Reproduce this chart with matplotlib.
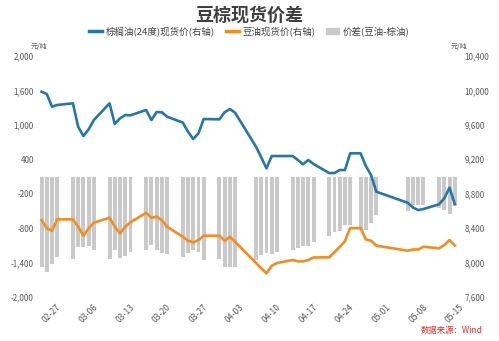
import numpy as np
import pandas as pd
import matplotlib.pyplot as plt
import matplotlib.dates as mdates
from matplotlib.lines import Line2D
from matplotlib.patches import Patch
from matplotlib.ticker import FuncFormatter

plt.rcParams['font.family'] = ['Noto Sans CJK SC', 'DejaVu Sans']

# trading days (2025)
dates = ["02-25", "02-26", "02-27", "02-28",
         "03-03", "03-04", "03-05", "03-06", "03-07",
         "03-10", "03-11", "03-12", "03-13", "03-14",
         "03-17", "03-18", "03-19", "03-20", "03-21",
         "03-24", "03-25", "03-26", "03-27", "03-28",
         "03-31", "04-01", "04-02", "04-03",
         "04-07", "04-08", "04-09", "04-10", "04-11",
         "04-14", "04-15", "04-16", "04-17", "04-18",
         "04-21", "04-22", "04-23", "04-24", "04-25",
         "04-27", "04-28", "04-29", "04-30",
         "05-06", "05-07", "05-08", "05-09",
         "05-12", "05-13", "05-14", "05-15"]

palm = [9985, 9958, 9811, 9831,
        9850, 9578, 9470, 9548, 9656,
        9850, 9610, 9676, 9714, 9711,
        9773, 9656, 9749, 9746, 9695,
        9627, 9520, 9436, 9502, 9668,
        9664, 9746, 9784, 9741,
        9346, 9223, 9095, 9238, 9238,
        9238, 9192, 9142, 9192, 9145,
        9040, 9040, 9075, 9075, 9269,
        9269, 9122, 9017, 8823,
        8695, 8640, 8610, 8622,
        8677, 8747, 8870, 8680]

soy = [8494, 8398, 8370, 8502,
       8502, 8416, 8312, 8398, 8463,
       8521, 8416, 8340, 8416, 8468,
       8579, 8521, 8533, 8494, 8416,
       8300, 8254, 8235, 8262, 8312,
       8312, 8254, 8300, 8242,
       7995, 7933, 7875, 7963, 7995,
       8030, 8014, 8014, 8030, 8059,
       8061, 8122, 8181, 8250, 8401,
       8401, 8268, 8254, 8197,
       8138, 8152, 8152, 8184,
       8166, 8204, 8262, 8198]

spread = [-1506, -1582, -1444, -1333,
          -1366, -1167, -1174, -1157, -1212,
          -1361, -1212, -1356, -1323, -1257,
          -1212, -1140, -1228, -1267, -1290,
          -1333, -1267, -1212, -1245, -1378,
          -1361, -1499, -1499, -1499,
          -1378, -1306, -1267, -1283, -1245,
          -1223, -1195, -1157, -1154, -1091,
          -991, -913, -900, -813, -810,
          -896, -880, -780, -647,
          -574, -481, -465, -465,
          -528, -548, -619, -493]

left_labels = ["-2,000", "-1,400", "-800", "-200", "400", "1,000", "1,600", "2,000"]

x = pd.to_datetime(["2025-" + d for d in dates])

c_palm = '#2477a6'
c_soy = '#f68b1f'
c_bar = '#c9c9c9'
c_txt = '#595959'

fig = plt.figure(figsize=(4.99, 3.41), dpi=100)
ax = fig.add_axes([38 / 499, 44 / 341, 422 / 499, 241 / 341])
ax.bar(x, spread, width=0.75, color=c_bar)
ax.set_ylim(-2000, 2000)
ax.set_yticks(np.linspace(-2000, 2000, 8))
ax.set_yticklabels(left_labels)

ax2 = ax.twinx()
ax2.plot(x, palm, color=c_palm, lw=1.9)
ax2.plot(x, soy, color=c_soy, lw=1.9)
ax2.set_ylim(7600, 10400)
ax2.set_yticks(range(7600, 10401, 400))
ax2.yaxis.set_major_formatter(FuncFormatter(lambda v, p: f'{v:,.0f}'))

x0 = mdates.date2num(pd.Timestamp('2025-02-27'))
ax.set_xlim(x0 - 2.68, x0 + 78.0)
ticks = pd.date_range('2025-02-27', '2025-05-15', freq='7D')
ax.set_xticks(ticks)
ax.set_xticklabels([t.strftime('%m-%d') for t in ticks], rotation=45, ha='center')

for a in (ax, ax2):
    for s in a.spines.values():
        s.set_visible(False)
    a.tick_params(length=0, labelsize=5.8, colors=c_txt)
ax.tick_params(axis='x', labelsize=6.2, pad=4)
ax.tick_params(axis='y', pad=3)
ax2.tick_params(axis='y', pad=3)

fig.text(0.5, 1 - 15 / 341, '豆棕现货价差', ha='center', va='center',
         fontsize=13, fontweight='bold', color='#404040')
fig.text(39 / 499, 1 - 47 / 341, '元/吨', ha='center', va='center', fontsize=5, color=c_txt)
fig.text(459 / 499, 1 - 47 / 341, '元/吨', ha='center', va='center', fontsize=5, color=c_txt)
fig.text(483 / 499, 1 - 331 / 341, '数据来源：Wind', ha='right', va='center',
         fontsize=6, color='#e0302e')

handles = [Line2D([], [], color=c_palm, lw=2.5),
           Line2D([], [], color=c_soy, lw=2.5),
           Patch(color=c_bar)]
labels = ['棕榈油(24度)现货价(右轴)', '豆油现货价(右轴)', '价差(豆油-棕油)']
fig.legend(handles, labels, loc='center', bbox_to_anchor=(0.5, 1 - 31 / 341), ncol=3,
           frameon=False, fontsize=6.8, handlelength=1.4, handleheight=0.6,
           columnspacing=1.1, handletextpad=0.4, labelcolor='#404040')

fig.savefig('out.png', dpi=100)
